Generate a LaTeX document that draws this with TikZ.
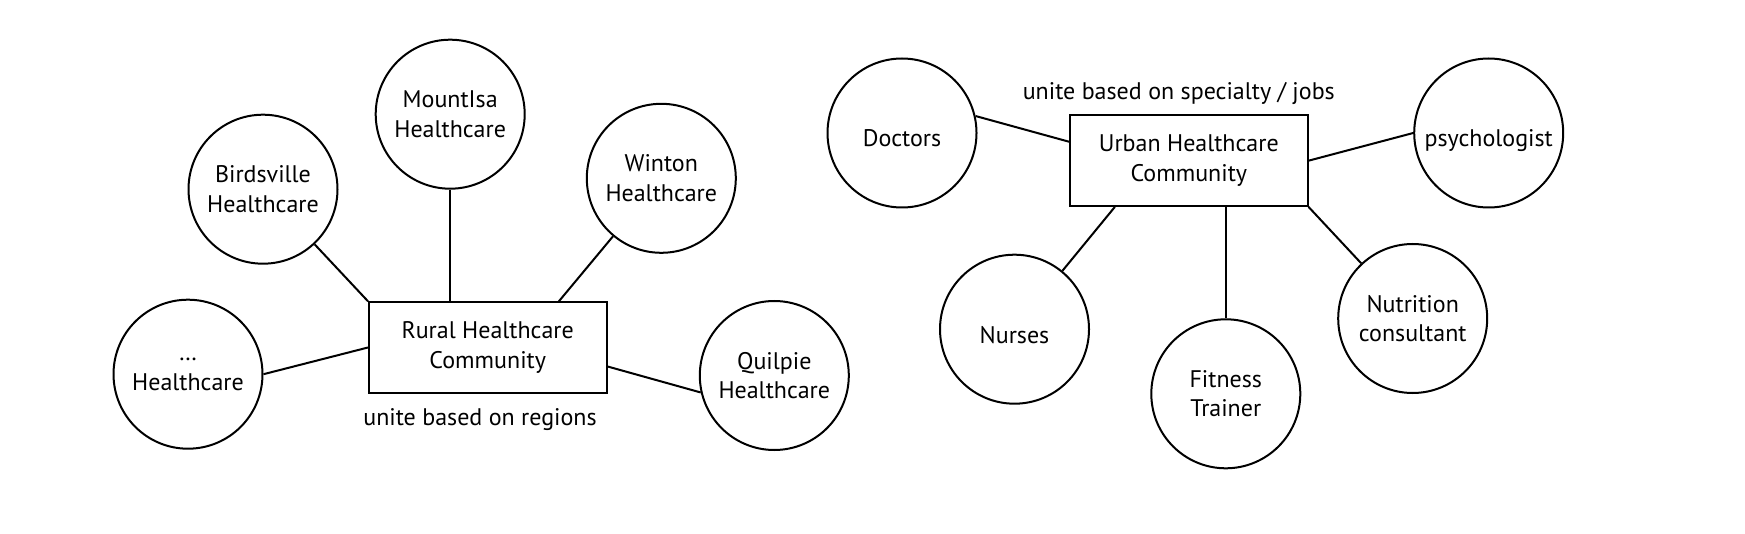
\documentclass[tikz,border=0pt]{standalone}
\usepackage{fontspec}
\setmainfont{PT Sans}
\usetikzlibrary{calc}

\begin{document}
\begin{tikzpicture}[
    x=0.5pt, y=-0.5pt,
    member/.style={circle, draw, line width=1pt, minimum size=74.5pt, inner sep=0pt, align=center, font=\fontsize{12}{14.7}\selectfont},
    oneline/.style={member, text height=16pt, text depth=2pt},
    hub/.style={rectangle, draw, line width=1pt, minimum width=118.75pt, minimum height=45.2pt, inner sep=0pt, align=center, font=\fontsize{12}{14.7}\selectfont},
    link/.style={line width=1pt},
    note/.style={anchor=base, font=\fontsize{12}{14.7}\selectfont}
]
    \useasboundingbox (0,0) rectangle (1745,534);

    % Rural community, grouped by region
    \node[hub] (rural) at (487.75,347.5) {Rural Healthcare\\Community};
    \node[member] (bird) at (263,189.2) {Birdsville\\Healthcare};
    \node[member] (mount) at (450.2,114.2) {MountIsa\\Healthcare};
    \node[member] (winton) at (661.3,178.3) {Winton\\Healthcare};
    \node[member] (other) at (188,374.2) {\dots\\Healthcare};
    \node[member] (quil) at (774.3,375.5) {Quilpie\\Healthcare};
    \node[note] (region) at (480,425) {unite based on regions};

    \draw[link] (bird) -- (rural.north west);
    \draw[link] (mount) -- (mount |- rural.north);
    \draw[link] (winton) -- (rural.33);
    \draw[link] (other.east) -- (rural.west);
    \draw[link] (quil.193) -- (rural.351);

    % Urban community, grouped by job
    \node[hub] (urban) at (1188.8,160.7) {Urban Healthcare\\Community};
    \node[oneline] (doc) at (902,133) {Doctors};
    \node[oneline] (psy) at (1488.7,133) {psychologist};
    \node[oneline] (nurse) at (1014.5,329.2) {Nurses};
    \node[member] (fit) at (1225.8,393.8) {Fitness\\Trainer};
    \node[member] (nutri) at (1412.7,318.5) {Nutrition\\consultant};
    \node[note] (job) at (1178.8,100) {unite based on specialty / jobs};

    \draw[link] (doc.13) -- (urban.171);
    \draw[link] (psy.west) -- (urban.east);
    \draw[link] (nurse) -- (urban.212);
    \draw[link] (fit) -- (fit |- urban.south);
    \draw[link] (nutri) -- (urban.south east);
\end{tikzpicture}
\end{document}
